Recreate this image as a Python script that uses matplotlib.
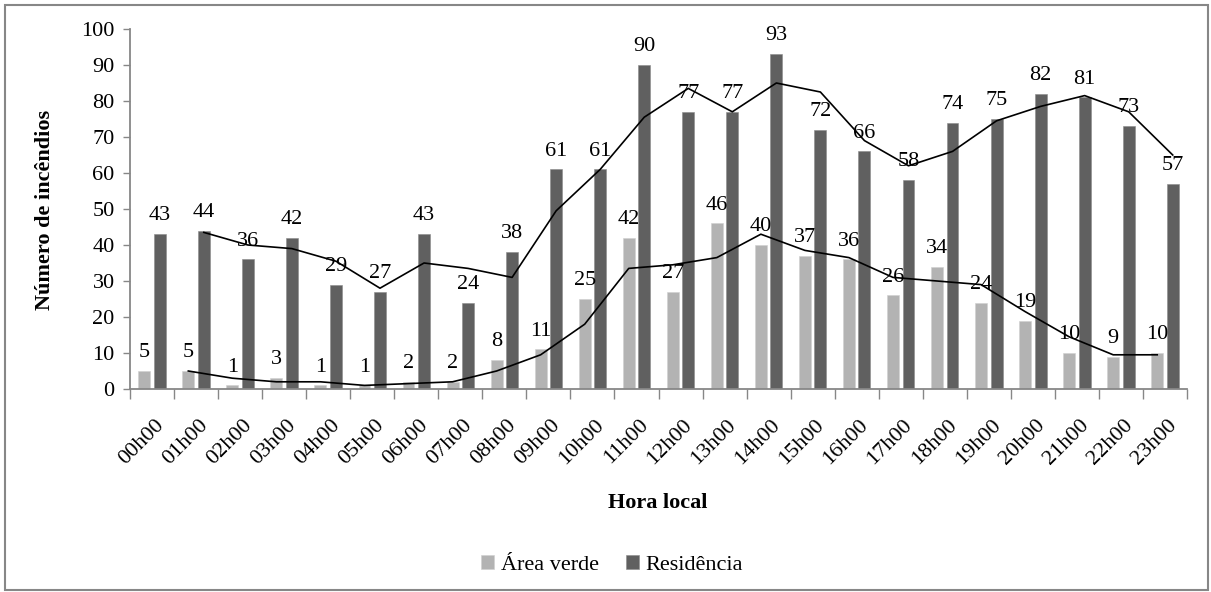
import matplotlib
matplotlib.use("Agg")
import matplotlib.pyplot as plt
import matplotlib.transforms as mtransforms
from matplotlib.patches import Rectangle
import numpy as np
import pandas as pd

hours = [f"{h:02d}h00" for h in range(24)]
area_verde = [5, 5, 1, 3, 1, 1, 2, 2, 8, 11, 25, 42, 27, 46, 40, 37, 36, 26, 34, 24, 19, 10, 9, 10]
residencia = [43, 44, 36, 42, 29, 27, 43, 24, 38, 61, 61, 90, 77, 77, 93, 72, 66, 58, 74, 75, 82, 81, 73, 57]

LIGHT = "#b3b3b3"
DARK = "#606060"
AXIS = "#878787"
FS = 16

plt.rcParams["font.family"] = ["Liberation Serif", "DejaVu Serif"]

fig = plt.figure(figsize=(12.11, 5.92), dpi=100)
ax = fig.add_axes([130 / 1211, 1 - 389 / 592, (1187 - 130) / 1211, 360 / 592])

x = np.arange(len(hours))
off = 0.176
w = 0.27
b1 = ax.bar(x - off, area_verde, w, color=LIGHT, edgecolor="#d0d0d0", linewidth=0.4, label="Área verde", zorder=2)
b2 = ax.bar(x + off, residencia, w, color=DARK, edgecolor="#8a8a8a", linewidth=0.4, label="Residência", zorder=2)

# 2-period moving average trendlines (Excel style)
ma_verde = pd.Series(area_verde).rolling(2).mean()
ma_res = pd.Series(residencia).rolling(2).mean()
ax.plot(x[1:] - off, ma_verde[1:], color="black", lw=1.2, zorder=3)
ax.plot(x[1:] + off, ma_res[1:], color="black", lw=1.2, zorder=3)

for xi, v in zip(x, area_verde):
    ax.annotate(str(v), (xi - off, v), xytext=(0, 10), textcoords="offset points",
                ha="center", va="baseline", fontsize=FS, zorder=4)
for xi, v in zip(x, residencia):
    ax.annotate(str(v), (xi + off, v), xytext=(0, 10), textcoords="offset points",
                ha="center", va="baseline", fontsize=FS, zorder=4)

ax.set_xlim(-0.5, len(hours) - 0.5)
ax.set_ylim(0, 100)
ax.set_yticks(range(0, 101, 10))
ax.tick_params(axis="y", labelsize=FS, length=5, width=1, color=AXIS, pad=6)

ax.set_xticks(x)
ax.set_xticks(np.arange(-0.5, len(hours)), minor=True)
ax.set_xticklabels(hours, fontsize=FS, rotation=45, ha="right", va="center", rotation_mode="anchor")
ax.tick_params(axis="x", which="major", length=0, pad=24)
ax.tick_params(axis="x", which="minor", length=7, width=1, color=AXIS)
shift = mtransforms.ScaledTranslation(0.09, 0, fig.dpi_scale_trans)
for lab in ax.get_xticklabels():
    lab.set_transform(lab.get_transform() + shift)

for side in ["top", "right"]:
    ax.spines[side].set_visible(False)
for side in ["left", "bottom"]:
    ax.spines[side].set_color(AXIS)
    ax.spines[side].set_linewidth(1.3)

fig.text(658 / 1211, 1 - 503 / 592, "Hora local", ha="center", va="center", fontsize=FS, fontweight="bold")
fig.text(45 / 1211, 1 - 210 / 592, "Número de incêndios", ha="center", va="center", rotation=90,
         fontsize=FS, fontweight="bold")

fig.legend(handles=[b1, b2], loc="center", bbox_to_anchor=(612 / 1211, 1 - 565 / 592), ncol=2,
           frameon=False, fontsize=FS, handlelength=0.6, handleheight=0.6, handletextpad=0.3,
           columnspacing=1.2)

fig.patches.append(Rectangle((5 / 1211, 2 / 592), 1203 / 1211, 585 / 592, transform=fig.transFigure,
                             fill=False, edgecolor=AXIS, linewidth=1.5))

fig.savefig("out.png", dpi=100)
